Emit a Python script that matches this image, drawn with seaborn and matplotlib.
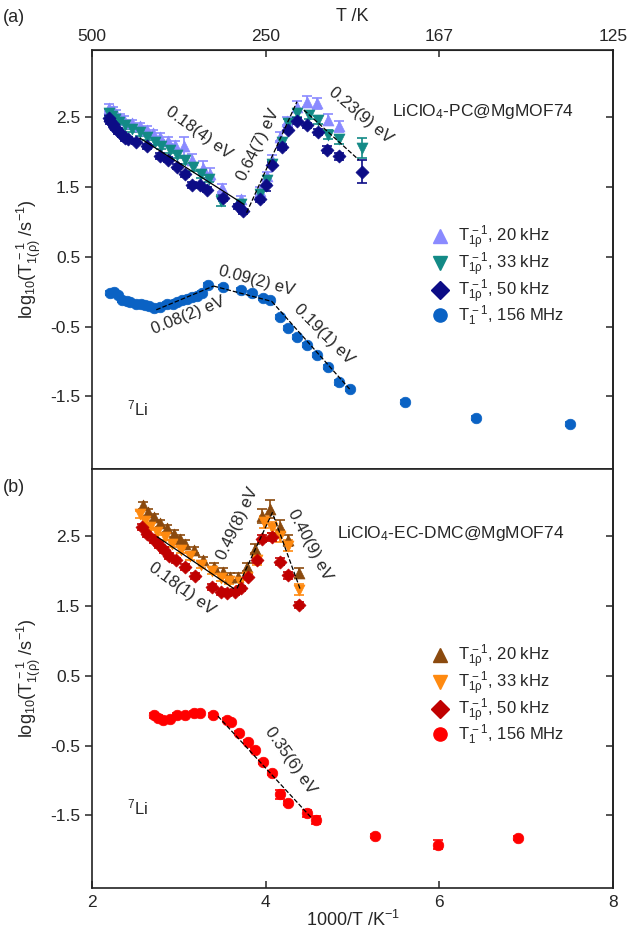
import matplotlib
matplotlib.use("Agg")
import matplotlib.pyplot as plt
import seaborn as sns
from matplotlib.lines import Line2D

sns.set_style("ticks")
plt.rcParams["font.family"] = ["Liberation Sans", "DejaVu Sans"]
plt.rcParams["mathtext.fontset"] = "custom"
plt.rcParams["mathtext.rm"] = "Liberation Sans"
plt.rcParams["mathtext.it"] = "Liberation Sans:italic"
plt.rcParams["mathtext.default"] = "regular"

# ---- panel (a): LiClO4-PC@MgMOF74 ----
a20_x = [2.19, 2.24, 2.28, 2.32, 2.37, 2.46, 2.55, 2.63, 2.70, 2.78, 2.87, 2.96, 3.06, 3.15,
         3.28, 3.36, 3.50, 3.72, 3.94, 4.01, 4.07, 4.17, 4.24, 4.36, 4.48, 4.59, 4.72, 4.84]
a20_y = [2.63, 2.60, 2.55, 2.49, 2.46, 2.41, 2.37, 2.32, 2.27, 2.22, 2.16, 2.10, 2.08, 1.89,
         1.77, 1.68, 1.48, 1.32, 1.44, 1.65, 1.89, 2.22, 2.44, 2.65, 2.72, 2.70, 2.46, 2.37]
a20_e = [0.05, 0.05, 0.05, 0.05, 0.05, 0.05, 0.05, 0.05, 0.05, 0.05, 0.05, 0.06, 0.14, 0.08,
         0.10, 0.09, 0.06, 0.05, 0.06, 0.06, 0.06, 0.06, 0.06, 0.08, 0.08, 0.08, 0.08, 0.08]

a33_x = [2.19, 2.23, 2.27, 2.31, 2.38, 2.46, 2.55, 2.63, 2.72, 2.80, 2.90, 2.98, 3.07, 3.16, 3.26,
         3.35, 3.49, 3.72, 3.94, 4.01, 4.07, 4.19, 4.26, 4.36, 4.50, 4.60, 4.72, 4.84, 5.11]
a33_y = [2.56, 2.52, 2.47, 2.43, 2.38, 2.33, 2.28, 2.22, 2.15, 2.09, 2.03, 1.96, 1.88, 1.78, 1.68,
         1.62, 1.30, 1.25, 1.40, 1.60, 1.83, 2.15, 2.42, 2.56, 2.53, 2.46, 2.25, 2.18, 2.06]
a33_e = [0.05, 0.05, 0.05, 0.05, 0.05, 0.05, 0.05, 0.05, 0.05, 0.05, 0.05, 0.05, 0.05, 0.05, 0.05,
         0.05, 0.08, 0.05, 0.05, 0.06, 0.05, 0.05, 0.05, 0.06, 0.06, 0.06, 0.06, 0.06, 0.14]

a50_x = [2.19, 2.21, 2.24, 2.27, 2.30, 2.34, 2.38, 2.42, 2.51, 2.63, 2.78, 2.88, 2.98, 3.07, 3.15, 3.24,
         3.32, 3.51, 3.68, 3.74, 3.94, 4.00, 4.07, 4.19, 4.26, 4.36, 4.48, 4.60, 4.71, 4.84, 5.11]
a50_y = [2.49, 2.44, 2.40, 2.35, 2.30, 2.25, 2.20, 2.18, 2.15, 2.08, 1.94, 1.89, 1.79, 1.68, 1.53, 1.52,
         1.46, 1.34, 1.22, 1.15, 1.32, 1.52, 1.82, 2.07, 2.32, 2.44, 2.38, 2.29, 2.03, 1.94, 1.72]
a50_e = [0.04, 0.04, 0.04, 0.04, 0.04, 0.04, 0.04, 0.04, 0.04, 0.04, 0.04, 0.04, 0.04, 0.04, 0.04, 0.04,
         0.04, 0.04, 0.04, 0.04, 0.04, 0.08, 0.04, 0.04, 0.04, 0.04, 0.04, 0.04, 0.05, 0.05, 0.16]

a156_x = [2.21, 2.25, 2.30, 2.34, 2.40, 2.44, 2.51, 2.56, 2.61, 2.66, 2.71, 2.78, 2.86, 2.93, 2.98,
          3.04, 3.09, 3.15, 3.21, 3.27, 3.34, 3.51, 3.71, 3.84, 3.97, 4.05, 4.17, 4.26, 4.36, 4.47,
          4.59, 4.72, 4.85, 4.97, 5.61, 6.42, 7.51]
a156_y = [-0.02, -0.01, -0.05, -0.12, -0.13, -0.15, -0.17, -0.18, -0.19, -0.21, -0.23, -0.22, -0.18,
          -0.17, -0.15, -0.12, -0.10, -0.08, -0.06, -0.02, 0.10, 0.07, 0.02, -0.02, -0.09, -0.12,
          -0.36, -0.52, -0.65, -0.77, -0.91, -1.08, -1.30, -1.39, -1.58, -1.81, -1.90]
a156_e = [0.03] * len(a156_x)

# fitted segments (x pair, y pair, style)
a_fits = [([2.55, 3.75], [2.20, 1.25], "-"),
          ([3.78, 4.36], [1.13, 2.72], "--"),
          ([4.44, 5.07], [2.60, 1.89], "--"),
          ([2.74, 3.40], [-0.26, 0.08], "--"),
          ([3.40, 4.07], [0.08, -0.14], "--"),
          ([4.07, 4.97], [-0.14, -1.40], "--")]
a_notes = [("0.18(4) eV", 3.23, 2.28, -36), ("0.64(7) eV", 3.91, 2.10, 64),
           ("0.23(9) eV", 5.09, 2.52, -40), ("0.08(2) eV", 3.11, -0.34, 22),
           ("0.09(2) eV", 3.90, 0.16, -15), ("0.19(1) eV", 4.67, -0.61, -45)]

# ---- panel (b): LiClO4-EC-DMC@MgMOF74 ----
b20_x = [2.59, 2.65, 2.71, 2.78, 2.86, 2.94, 3.01, 3.07, 3.17, 3.28, 3.40, 3.51, 3.59, 3.68, 3.78,
         3.88, 3.96, 4.05, 4.17, 4.26, 4.38]
b20_y = [2.94, 2.84, 2.77, 2.68, 2.61, 2.53, 2.46, 2.39, 2.30, 2.15, 2.06, 1.99, 1.92, 1.92, 2.06,
         2.32, 2.79, 2.89, 2.63, 2.44, 1.97]
b20_e = [0.05, 0.05, 0.05, 0.05, 0.05, 0.05, 0.05, 0.05, 0.05, 0.05, 0.05, 0.05, 0.05, 0.05, 0.06,
         0.07, 0.10, 0.13, 0.10, 0.08, 0.07]

b33_x = [2.55, 2.61, 2.67, 2.75, 2.84, 2.92, 3.03, 3.13, 3.26, 3.38, 3.48, 3.58, 3.70, 3.78, 3.90,
         3.98, 4.07, 4.17, 4.26, 4.38]
b33_y = [2.81, 2.72, 2.63, 2.56, 2.49, 2.39, 2.30, 2.21, 2.09, 2.00, 1.90, 1.86, 1.84, 1.92, 2.15,
         2.70, 2.62, 2.50, 2.36, 1.73]
b33_e = [0.05, 0.05, 0.05, 0.05, 0.05, 0.05, 0.05, 0.05, 0.05, 0.05, 0.05, 0.05, 0.05, 0.05, 0.06,
         0.08, 0.08, 0.08, 0.08, 0.08]

b50_x = [2.57, 2.63, 2.71, 2.77, 2.83, 2.89, 2.97, 3.07, 3.19, 3.38, 3.48, 3.56, 3.65, 3.72, 3.80,
         3.90, 3.96, 4.07, 4.17, 4.26, 4.38]
b50_y = [2.63, 2.53, 2.44, 2.37, 2.30, 2.21, 2.15, 2.06, 1.93, 1.77, 1.70, 1.68, 1.70, 1.75, 1.92,
         2.15, 2.46, 2.49, 2.13, 1.94, 1.51]
b50_e = [0.04, 0.04, 0.04, 0.04, 0.04, 0.04, 0.04, 0.04, 0.04, 0.04, 0.04, 0.04, 0.04, 0.04, 0.04,
         0.04, 0.05, 0.06, 0.05, 0.05, 0.04]

b156_x = [2.71, 2.76, 2.82, 2.90, 2.98, 3.07, 3.17, 3.24, 3.39, 3.55, 3.60, 3.69, 3.80, 3.88, 3.97,
          4.07, 4.16, 4.26, 4.47, 4.58, 5.26, 5.99, 6.91]
b156_y = [-0.07, -0.10, -0.14, -0.12, -0.07, -0.06, -0.03, -0.03, -0.06, -0.14, -0.16, -0.32, -0.45,
          -0.57, -0.74, -0.89, -1.20, -1.32, -1.47, -1.57, -1.80, -1.92, -1.83]
b156_e = [0.03, 0.03, 0.03, 0.03, 0.03, 0.03, 0.03, 0.03, 0.03, 0.03, 0.03, 0.03, 0.03, 0.03, 0.03,
          0.03, 0.06, 0.03, 0.05, 0.06, 0.03, 0.06, 0.03]

b_fits = [([2.75, 3.63], [2.49, 1.75], "-"),
          ([3.67, 4.09], [1.75, 2.87], "--"),
          ([4.09, 4.40], [2.79, 1.73], "--"),
          ([3.45, 4.53], [-0.08, -1.54], "--")]
b_notes = [("0.18(1) eV", 3.03, 1.75, -36), ("0.49(8) eV", 3.68, 2.68, 65),
           ("0.40(9) eV", 4.51, 2.37, -62), ("0.35(6) eV", 4.28, -0.71, -55)]

labels = [r"T$_{1\rho}^{\,-1}$, 20 kHz", r"T$_{1\rho}^{\,-1}$, 33 kHz",
          r"T$_{1\rho}^{\,-1}$, 50 kHz", r"T$_{1}^{\,-1}$, 156 MHz"]
markers = ["^", "v", "D", "o"]
sizes = [62, 62, 44, 58]
a_colors = ["#8a8aff", "#138a86", "#0c0c86", "#0a62c4"]
b_colors = ["#8b4a0e", "#ff8a10", "#c00000", "#ff0000"]

fig = plt.figure(figsize=(6.29, 9.30), dpi=100)
ax1 = fig.add_axes([0.1463, 0.4957, 0.8283, 0.4505])
ax2 = fig.add_axes([0.1463, 0.0452, 0.8283, 0.4505])

a_series = [(a20_x, a20_y, a20_e), (a33_x, a33_y, a33_e), (a50_x, a50_y, a50_e), (a156_x, a156_y, a156_e)]
b_series = [(b20_x, b20_y, b20_e), (b33_x, b33_y, b33_e), (b50_x, b50_y, b50_e), (b156_x, b156_y, b156_e)]


def draw_panel(ax, series, colors, fits, notes):
    for (x, y, e), c, m, s in zip(series, colors, markers, sizes):
        ax.errorbar(x, y, yerr=e, fmt="none", ecolor=c, elinewidth=1.2, capsize=3.5, capthick=1.2, zorder=2)
        sns.scatterplot(x=x, y=y, marker=m, color=c, edgecolor=c, s=s, linewidth=0.5, ax=ax, zorder=3,
                        legend=False)
    for fx, fy, ls in fits:
        ax.plot(fx, fy, ls, color="black", lw=0.9, zorder=4)
    for txt, tx, ty, rot in notes:
        ax.text(tx, ty, txt, rotation=rot, ha="center", va="center", fontsize=12,
                rotation_mode="anchor", zorder=5)
    handles = [Line2D([], [], ls="none", marker=m, color=c, markersize=9.5) for m, c in zip(markers, colors)]
    ax.legend(handles, labels, loc="center left", bbox_to_anchor=(0.62, 0.46), frameon=False,
              fontsize=12, handletextpad=0.5, labelspacing=-0.1, handlelength=1.2)
    ax.set_xlim(2, 8)
    ax.set_ylim(-2.54, 3.46)
    ax.set_yticks([-1.5, -0.5, 0.5, 1.5, 2.5])
    ax.set_yticklabels(["-1.5", "-0.5", "0.5", "1.5", "2.5"])
    ax.tick_params(axis="y", direction="out", length=5, width=1.1, labelsize=12.5)
    ax.set_ylabel(r"log$_{10}$(T$_{1(\rho)}^{\,-1}$ /s$^{-1}$)", fontsize=13, labelpad=5)
    sec = ax.secondary_yaxis("right")
    sec.set_yticks([-1.5, -0.5, 0.5, 1.5, 2.5])
    sec.tick_params(direction="in", length=5, width=1.1, labelright=False)
    sec.spines["right"].set_linewidth(1.2)
    for sp in ax.spines.values():
        sp.set_linewidth(1.2)
        sp.set_color("#222222")


draw_panel(ax1, a_series, a_colors, a_fits, a_notes)
draw_panel(ax2, b_series, b_colors, b_fits, b_notes)

ax1.tick_params(axis="x", bottom=False, labelbottom=False)
top = ax1.secondary_xaxis("top")
top.set_xticks([2, 4, 6, 8])
top.set_xticklabels(["500", "250", "167", "125"])
top.tick_params(direction="in", length=5, width=1.1, labelsize=12.5, pad=4)
top.set_xlabel("T /K", fontsize=13, labelpad=6)

ax2.set_xticks([2, 4, 6, 8])
ax2.set_xticklabels(["2", "4", "6", "8"])
ax2.tick_params(axis="x", direction="in", length=5, width=1.1, labelsize=12.5, pad=5)
ax2.set_xlabel(r"1000/T /K$^{-1}$", fontsize=13, labelpad=0)

ax1.text(5.45, 2.58, r"LiClO$_4$-PC@MgMOF74", fontsize=12.5, ha="left", va="center")
ax2.text(4.82, 2.54, r"LiClO$_4$-EC-DMC@MgMOF74", fontsize=12.5, ha="left", va="center")
ax1.text(2.40, -1.68, r"$^{7}$Li", fontsize=12, ha="left", va="center")
ax2.text(2.40, -1.38, r"$^{7}$Li", fontsize=12, ha="left", va="center")

fig.text(0.005, 0.981, "(a)", fontsize=13, ha="left", va="center")
fig.text(0.005, 0.476, "(b)", fontsize=13, ha="left", va="center")

fig.savefig("out.png", dpi=100)
